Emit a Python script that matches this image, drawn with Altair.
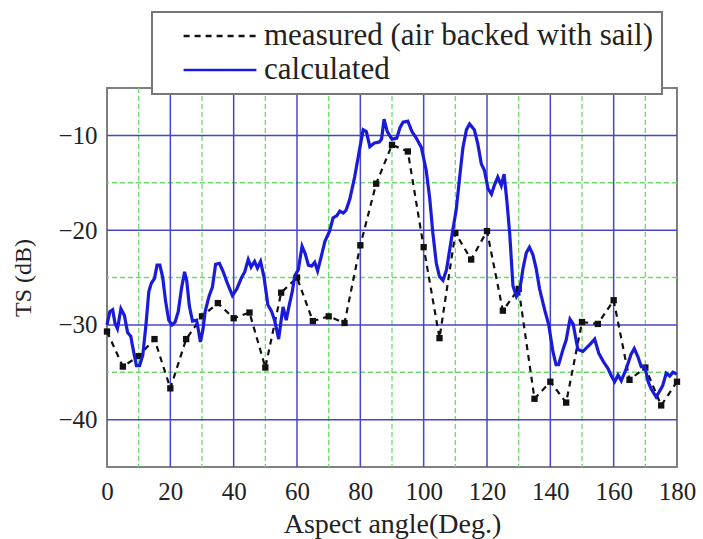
import altair as alt
import pandas as pd

# ---- data ----
meas_deg = [0, 5, 10, 15, 20, 25, 30, 35, 40, 45, 50, 55, 60, 65, 70, 75, 80, 85, 90,
            95, 100, 105, 110, 115, 120, 125, 130, 135, 140, 145, 150, 155, 160, 165,
            170, 175, 180]
meas_ts = [-30.7, -34.4, -33.3, -31.5, -36.7, -31.5, -29.1, -27.7, -29.3, -28.7, -34.5,
           -26.6, -25.0, -29.6, -29.1, -29.8, -21.6, -15.1, -11.0, -11.7, -21.8, -31.4,
           -20.3, -23.1, -20.1, -28.5, -26.2, -37.8, -36.0, -38.2, -29.7, -29.9, -27.4,
           -35.8, -34.5, -38.5, -36.0]

calc_deg = [0, 0.9, 1.8, 2.5, 3.3, 4.4, 5.5, 6.5, 7.5, 8.5,
            9.3, 10.3, 11.3, 12.3, 13.2, 14.0, 15.0, 15.8, 16.7, 17.6,
            18.5, 19.5, 20.5, 21.5, 22.5, 23.5, 24.5, 25.2, 26.0, 27.0,
            28.3, 29.5, 30.3, 31.0, 32.2, 33.3, 34.3, 35.5, 36.7, 38.0,
            39.6, 41.0, 42.5, 43.5, 44.6, 45.5, 46.6, 47.5, 48.5, 49.6,
            50.8, 52.0, 53.0, 54.2, 55.0, 55.6, 56.6, 57.5, 58.5, 59.3,
            60.4, 61.6, 62.6, 63.6, 64.6, 65.6, 66.5, 67.5, 68.8, 70.3,
            71.4, 72.5, 73.5, 74.6, 75.5, 76.7, 78.2, 79.8, 80.9, 81.9,
            83.0, 84.5, 86.0, 86.7, 87.5, 88.5, 90.0, 91.5, 92.5, 93.5,
            95.0, 96.3, 97.7, 99.3, 100.8, 101.9, 102.9, 104.0, 105.0, 106.1,
            107.2, 108.2, 109.2, 110.3, 111.4, 112.4, 113.5, 114.5, 116.0, 117.1,
            118.2, 119.2, 120.3, 121.4, 122.4, 123.4, 124.5, 125.4, 126.3, 127.2,
            128.2, 129.3, 130.3, 131.4, 132.4, 133.4, 134.5, 135.5, 136.6, 138.2,
            139.5, 140.8, 141.8, 142.6, 144.0, 145.0, 146.2, 147.2, 148.7, 150.3,
            152.4, 154.0, 155.3, 156.8, 158.2, 159.3, 160.3, 161.4, 162.4, 164.0,
            165.5, 166.5, 167.7, 168.7, 169.8, 170.9, 171.9, 173.4, 174.5, 175.5,
            176.6, 177.7, 178.7, 180.0]
calc_ts = [-30.0, -28.6, -28.4, -29.8, -30.4, -28.3, -29.0, -30.8, -31.2, -33.0,
           -34.3, -34.3, -33.2, -30.0, -26.5, -25.6, -25.1, -23.7, -23.7, -25.0,
           -27.5, -29.5, -30.0, -29.7, -28.6, -26.2, -24.4, -25.4, -28.0, -29.6,
           -29.5, -31.8, -30.5, -28.6, -27.0, -26.0, -23.6, -23.5, -24.4, -25.6,
           -26.9, -26.2, -25.0, -24.4, -23.1, -23.9, -23.3, -24.0, -23.3, -25.0,
           -27.9, -28.6, -29.6, -31.5, -29.5, -28.1, -29.5, -28.0, -26.5, -24.8,
           -24.2, -21.7, -22.5, -23.7, -23.8, -23.4, -24.3, -23.0, -21.2, -20.1,
           -18.7, -18.5, -18.0, -18.2, -17.9, -16.7, -14.4, -11.4, -9.4, -9.6,
           -11.2, -10.8, -10.7, -10.4, -8.3, -9.6, -10.4, -10.3, -9.2, -8.6,
           -8.5, -9.6, -10.3, -11.3, -13.7, -16.6, -20.3, -23.5, -24.9, -25.3,
           -24.2, -22.1, -20.0, -17.8, -14.3, -11.3, -9.4, -8.8, -9.4, -10.9,
           -13.0, -13.7, -15.6, -16.2, -15.2, -14.4, -15.3, -14.1, -17.0, -20.5,
           -25.9, -27.0, -26.4, -24.0, -22.4, -21.8, -22.6, -24.0, -26.2, -28.4,
           -30.0, -32.8, -34.2, -34.2, -32.6, -31.6, -29.4, -29.9, -32.6, -32.8,
           -32.1, -31.5, -33.0, -33.9, -34.6, -35.4, -36.0, -35.3, -35.9, -34.6,
           -33.1, -32.5, -33.4, -34.4, -34.4, -36.0, -36.8, -37.6, -37.0, -36.4,
           -35.1, -35.4, -35.0, -35.2]

series_names = ["measured (air backed with sail)", "calculated"]
x_major = [0, 20, 40, 60, 80, 100, 120, 140, 160, 180]
x_minor = [10, 30, 50, 70, 90, 110, 130, 150, 170]
y_major = [-40, -30, -20, -10]
y_minor = [-35, -25, -15]

meas_df = pd.DataFrame({"deg": meas_deg, "ts": meas_ts, "series": series_names[0]})
calc_df = pd.DataFrame({"deg": calc_deg, "ts": calc_ts, "series": series_names[1]})
x_major_df = pd.DataFrame({"deg": [v for v in x_major if 0 < v < 180]})
x_minor_df = pd.DataFrame({"deg": x_minor})
y_major_df = pd.DataFrame({"ts": y_major})
y_minor_df = pd.DataFrame({"ts": y_minor})

FONT = "Liberation Serif"
BLUE_GRID = "#4646cc"
GREEN_GRID = "#72d872"

xscale = alt.Scale(domain=[0, 180], nice=False, zero=False)
yscale = alt.Scale(domain=[-45, -5], nice=False, zero=False)

x_enc = alt.X(
    "deg:Q",
    scale=xscale,
    axis=alt.Axis(
        values=x_major,
        title="Aspect angle(Deg.)",
        grid=False,
        ticks=False,
        domain=False,
        labelFont=FONT,
        labelFontSize=25,
        labelColor="#222222",
        labelPadding=12,
        labelFlush=False,
        titleFont=FONT,
        titleFontSize=28,
        titleFontWeight="normal",
        titleColor="#222222",
        titlePadding=6,
    ),
)

y_enc = alt.Y(
    "ts:Q",
    scale=yscale,
    axis=alt.Axis(
        values=y_major,
        title="TS (dB)",
        grid=False,
        ticks=False,
        domain=False,
        labelFont=FONT,
        labelFontSize=25,
        labelColor="#222222",
        labelPadding=10,
        titleFont=FONT,
        titleFontSize=24,
        titleFontWeight="normal",
        titleColor="#222222",
        titlePadding=22,
    ),
)

# grid lines (drawn through the scales)
gx_minor = alt.Chart(x_minor_df).mark_rule(color=GREEN_GRID, strokeWidth=1.3, strokeDash=[5, 3]).encode(
    x=alt.X("deg:Q", scale=xscale))
gy_minor = alt.Chart(y_minor_df).mark_rule(color=GREEN_GRID, strokeWidth=1.3, strokeDash=[5, 3]).encode(
    y=alt.Y("ts:Q", scale=yscale))
gx_major = alt.Chart(x_major_df).mark_rule(color=BLUE_GRID, strokeWidth=1.5).encode(
    x=alt.X("deg:Q", scale=xscale))
gy_major = alt.Chart(y_major_df).mark_rule(color=BLUE_GRID, strokeWidth=1.5).encode(
    y=alt.Y("ts:Q", scale=yscale))

color_scale = alt.Scale(domain=series_names, range=["#111111", "#1a1adc"])
dash_scale = alt.Scale(domain=series_names, range=[[6, 5], [1, 0]])

meas_line = alt.Chart(meas_df).mark_line(strokeWidth=2.2).encode(
    x=x_enc,
    y=y_enc,
    color=alt.Color("series:N", scale=color_scale, title=None),
    strokeDash=alt.StrokeDash("series:N", scale=dash_scale, title=None),
)

meas_pts = alt.Chart(meas_df).mark_point(shape="square", filled=True, size=40, opacity=1).encode(
    x="deg:Q",
    y="ts:Q",
    color=alt.value("#111111"),
)

calc_line = alt.Chart(calc_df).mark_line(strokeWidth=3.2).encode(
    x="deg:Q",
    y="ts:Q",
    color=alt.Color("series:N", scale=color_scale, title=None),
    strokeDash=alt.StrokeDash("series:N", scale=dash_scale, title=None),
)

chart = (
    alt.layer(gx_minor, gy_minor, gx_major, gy_major, meas_line, meas_pts, calc_line)
    .properties(
        width=570,
        height=379,
        autosize=alt.AutoSizeParams(type="none"),
        padding={"left": 107, "top": 88, "right": 26, "bottom": 72},
        background="white",
    )
    .configure_view(stroke="#808080", strokeWidth=2)
    .configure_legend(
        orient="none",
        legendX=45,
        legendY=-76,
        strokeColor="#777777",
        strokeWidth=2,
        fillColor="white",
        padding=8,
        labelFont=FONT,
        labelFontSize=31,
        labelColor="#222222",
        labelOffset=6,
        labelLimit=600,
        symbolType="stroke",
        symbolSize=5300,
        symbolStrokeWidth=2.5,
        symbolOffset=22,
        clipHeight=32,
        rowPadding=2,
    )
)

chart.save("out.html", embed_options={"renderer": "svg", "actions": False})
